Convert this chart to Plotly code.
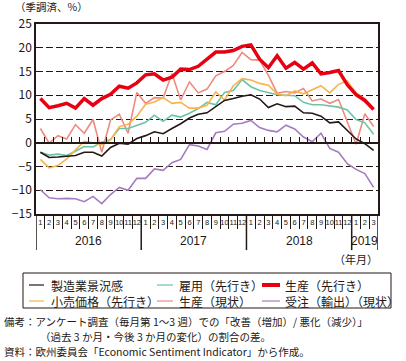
import plotly.graph_objects as go

# ---- data (Jan 2016 - Mar 2019) ----
months = [str(m) for m in range(1, 13)] * 3 + ["1", "2", "3"]
years = ["2016", "2017", "2018", "2019"]
year_counts = [12, 12, 12, 3]

mfg_confidence = [-2.0, -3.1, -3.0, -2.8, -2.7, -2.0, -2.0, -2.8, -1.0, -0.1,
                  -0.3, 0.9, 1.5, 2.3, 1.9, 3.0, 4.0, 5.2, 6.0, 6.3,
                  7.7, 8.9, 9.3, 9.8, 10.1, 9.2, 7.4, 8.2, 7.6, 7.7,
                  6.3, 6.2, 5.6, 4.2, 4.4, 2.5, 0.8, -0.2, -1.6]
employment_exp = [-2.0, -2.6, -2.4, -2.7, -1.8, -0.8, -0.9, 0.1, 0.7, 3.0,
                  3.0, 3.7, 4.3, 5.8, 4.5, 5.8, 5.4, 6.2, 7.2, 8.5,
                  8.0, 10.6, 11.0, 13.3, 11.8, 11.0, 10.5, 10.1, 10.0, 9.9,
                  8.5, 8.0, 8.0, 7.8, 7.5, 6.9, 4.9, 4.2, 1.8]
production_exp = [9.3, 7.4, 7.8, 8.3, 7.3, 9.3, 7.9, 9.3, 10.2, 11.9,
                  11.5, 12.6, 14.3, 14.5, 13.2, 13.8, 15.5, 15.4, 16.1, 17.6,
                  19.1, 19.1, 19.4, 20.3, 20.6, 17.6, 15.8, 18.3, 15.7, 16.9,
                  15.5, 16.8, 14.5, 14.8, 15.2, 12.2, 10.1, 8.9, 7.0]
retail_price_exp = [-3.5, -5.3, -4.8, -3.4, -1.5, 0.3, 0.0, -0.4, 0.6, 3.4,
                    3.9, 5.6, 8.1, 8.6, 9.5, 8.3, 8.5, 7.3, 7.3, 7.9,
                    10.7, 9.0, 12.0, 13.5, 13.2, 12.5, 12.1, 10.2, 9.9, 10.9,
                    10.3, 11.2, 12.0, 10.5, 12.3, 13.0, 10.5, 9.3, 7.2]
production_cur = [3.0, -0.1, 1.5, 0.8, 3.8, 2.0, 4.9, -2.0, 4.8, 6.0,
                  2.0, 10.6, 8.3, 9.5, 9.4, 14.6, 9.0, 12.8, 10.5, 11.3,
                  14.1, 15.0, 16.3, 19.0, 17.5, 17.4, 14.2, 10.4, 10.8, 10.5,
                  11.4, 8.8, 9.2, 8.3, 9.1, 4.5, -0.3, 6.1, 3.4]
export_orders_cur = [-9.9, -11.6, -11.8, -11.7, -11.8, -12.4, -11.3, -12.8, -10.9, -9.4,
                     -10.0, -7.5, -7.5, -5.5, -5.8, -4.2, -3.5, -0.4, -0.7, -1.4,
                     2.1, 2.4, 3.9, 4.1, 4.7, 3.2, 2.6, 2.3, 3.7, 2.9,
                     1.2, 0.2, 2.0, -1.2, -2.0, -4.4, -5.6, -6.5, -9.4]

names = ["製造業景況感", "雇用（先行き）", "生産（先行き）",
         "小売価格（先行き）", "生産（現状）", "受注（輸出）（現状）"]

INK = "#231815"
C_BLACK = INK
C_TEAL = "#6cc4a6"
C_RED = "#e60012"
C_ORANGE = "#f6b44c"
C_SALMON = "#ee8b80"
C_PURPLE = "#a57cbf"

FONT = "Noto Sans CJK JP, Liberation Sans, sans-serif"
JFONT = "Noto Sans CJK JP, sans-serif"
NUMFONT = "Liberation Sans, Arial, sans-serif"

x = list(range(len(months)))

fig = go.Figure()
series = [
    (production_cur, names[4], C_SALMON, 1.6),
    (employment_exp, names[1], C_TEAL, 1.6),
    (retail_price_exp, names[3], C_ORANGE, 1.6),
    (export_orders_cur, names[5], C_PURPLE, 1.6),
    (mfg_confidence, names[0], C_BLACK, 1.6),
    (production_exp, names[2], C_RED, 3.5),
]
for vals, nm, col, w in series:
    fig.add_trace(go.Scatter(x=x, y=vals, name=nm, mode="lines",
                             line=dict(color=col, width=w), showlegend=False))

# invisible trace for the zero-line axis
fig.add_trace(go.Scatter(x=[0], y=[0], xaxis="x2", mode="markers",
                         marker=dict(opacity=0), showlegend=False, hoverinfo="skip"))

bounds = [i - 0.5 for i in range(1, len(months))]

fig.update_layout(
    width=406, height=361,
    margin=dict(l=36, r=28, t=24, b=147),
    paper_bgcolor="white", plot_bgcolor="white",
    showlegend=False,
    font=dict(family=FONT, size=12, color=INK),
    xaxis=dict(
        range=[-0.5, len(months) - 0.5],
        tickvals=x, ticktext=months, tickangle=0,
        ticks="", showgrid=False, zeroline=False,
        showline=True, linecolor=INK, linewidth=1.5, mirror=True,
        tickfont=dict(size=7.5, family=NUMFONT),
        minor=dict(tickvals=bounds, ticks="outside", ticklen=13,
                   tickcolor=INK, tickwidth=1, showgrid=False),
    ),
    xaxis2=dict(
        overlaying="x", anchor="free", position=15 / 40, side="top",
        range=[-0.5, len(months) - 0.5],
        showticklabels=False, ticks="", showgrid=False, zeroline=False,
        showline=True, linecolor=INK, linewidth=1.5,
        minor=dict(tickvals=bounds, ticks="outside", ticklen=5,
                   tickcolor=INK, tickwidth=1, showgrid=False),
    ),
    yaxis=dict(
        range=[-15, 25], tickvals=list(range(-15, 26, 5)),
        ticks="", showgrid=True, gridcolor=INK, gridwidth=1, griddash="7px,3px",
        zeroline=True, zerolinecolor=INK, zerolinewidth=1.5,
        showline=True, linecolor=INK, linewidth=1.5, mirror=True,
        tickfont=dict(size=12),
    ),
)

# year separators and year labels
start = 0
edges = [-0.5]
for yr, n in zip(years, year_counts):
    fig.add_annotation(x=start + (n - 1) / 2, y=-0.14, xref="x", yref="paper",
                       text=yr, showarrow=False,
                       font=dict(size=12, family=NUMFONT, color=INK),
                       xanchor="center", yanchor="middle")
    start += n
    edges.append(start - 0.5)
for e in edges:
    fig.add_shape(type="line", xref="x", yref="paper", x0=e, x1=e, y0=0, y1=-0.19,
                  line=dict(color=INK, width=1.5))

def px_x(p):
    return (p - 36) / 342.0

def px_y(p):
    return (214 - p) / 190.0

# title / unit labels
fig.add_annotation(x=px_x(13), y=px_y(7), xref="paper", yref="paper",
                   text="（季調済、%）", showarrow=False, xanchor="left", yanchor="middle",
                   font=dict(size=10.5, family=JFONT))
fig.add_annotation(x=px_x(380), y=px_y(259), xref="paper", yref="paper",
                   text="（年月）", showarrow=False, xanchor="right", yanchor="middle",
                   font=dict(size=11, family=JFONT))

# legend box
fig.add_shape(type="rect", xref="paper", yref="paper",
              x0=px_x(23), x1=px_x(391), y0=px_y(273), y1=px_y(308),
              line=dict(color=INK, width=1), fillcolor="white")
legend_items = [
    (names[0], C_BLACK, 1.2, 29, 44, 49, 285),
    (names[1], C_TEAL, 1.2, 157, 173, 177, 285),
    (names[2], C_RED, 4, 262, 280, 283, 285),
    (names[3], C_ORANGE, 1.2, 29, 44, 49, 301),
    (names[4], C_SALMON, 1.2, 157, 173, 177, 301),
    (names[5], C_PURPLE, 1.2, 262, 280, 283, 301),
]
for nm, col, w, lx0, lx1, tx, ty in legend_items:
    fig.add_shape(type="line", xref="paper", yref="paper",
                  x0=px_x(lx0), x1=px_x(lx1), y0=px_y(ty), y1=px_y(ty),
                  line=dict(color=col, width=w))
    fig.add_annotation(x=px_x(tx), y=px_y(ty), xref="paper", yref="paper",
                       text=nm, showarrow=False, xanchor="left", yanchor="middle",
                       font=dict(size=12, family=JFONT))

notes = [
    (2, 321, "備考：アンケート調査（毎月第 1～3 週）での「改善（増加）/ 悪化（減少）」"),
    (38, 336, "（過去 3 か月・今後 3 か月の変化）の割合の差。"),
    (2, 351, "資料：欧州委員会「Economic Sentiment Indicator」から作成。"),
]
for nx, ny, t in notes:
    fig.add_annotation(x=px_x(nx), y=px_y(ny), xref="paper", yref="paper",
                       text=t, showarrow=False, xanchor="left", yanchor="middle",
                       font=dict(size=10.5, family=JFONT))

fig.write_html("out.html",
               config={"displayModeBar": False},
               post_script="document.body.style.margin='0';document.body.style.overflow='hidden';")
